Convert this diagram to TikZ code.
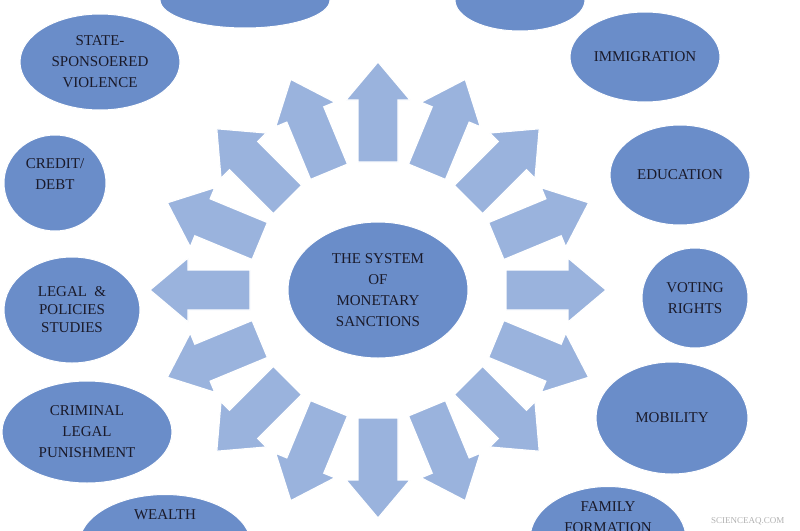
\documentclass[tikz,border=0pt]{standalone}
\usepackage{fontspec}
\setmainfont{Liberation Serif}
\usetikzlibrary{shapes.geometric}
\definecolor{ovalblue}{HTML}{6A8DC9}
\definecolor{arrowblue}{HTML}{9AB3DD}
\definecolor{txt}{HTML}{1A1A2A}
\tikzset{
  oval/.style={ellipse,fill=ovalblue,draw=white,line width=1pt,inner sep=0pt,align=center,text=txt,font=\fontsize{15}{21}\selectfont},
  blockarrow/.style={fill=arrowblue,draw=white,line width=1.2pt,line join=miter}
}
\begin{document}
\begin{tikzpicture}[x=1pt,y=-1pt]
\useasboundingbox (0,0) rectangle (800,530);
\clip (0,0) rectangle (800,530);
\fill[white] (0,0) rectangle (800,530);
% radial arrows
\foreach \a in {-90,-67.5,-45,-22.5,0,22.5,45,67.5,90,112.5,135,157.5,180,202.5,225,247.5}{
  \begin{scope}[shift={(378,290)},rotate=\a]
    \draw[blockarrow] (128,-20) -- (190,-20) -- (190,-32) -- (228,0) -- (190,32) -- (190,20) -- (128,20) -- cycle;
  \end{scope}
}
\node[oval,minimum width=180pt,minimum height=136pt] (center) at (378,290) {THE SYSTEM\\OF\\MONETARY\\SANCTIONS};
\node[oval,minimum width=170pt,minimum height=56pt] (tl) at (245,0) {};
\node[oval,minimum width=130pt,minimum height=62pt] (tr) at (520,0) {};
\node[oval,minimum width=160pt,minimum height=96pt] (state) at (100,62) {STATE-\\SPONSOERED\\VIOLENCE};
\node[oval,minimum width=150pt,minimum height=90pt] (imm) at (645,57) {IMMIGRATION};
\node[oval,minimum width=102pt,minimum height=96pt] (credit) at (55,183) {CREDIT/\\DEBT\\[-4pt]};
\node[oval,minimum width=136pt,minimum height=106pt] (legal) at (72,310) {LEGAL \ \&\\[-3pt]POLICIES\\[-3pt]STUDIES};
\node[oval,minimum width=140pt,minimum height=100pt] (edu) at (680,175) {EDUCATION};
\node[oval,minimum width=106pt,minimum height=100pt] (vote) at (695,298) {VOTING\\RIGHTS};
\node[oval,minimum width=170pt,minimum height=102pt] (crim) at (87,432) {CRIMINAL\\LEGAL\\PUNISHMENT};
\node[oval,minimum width=152pt,minimum height=112pt] (mob) at (672,418) {MOBILITY};
\node[oval,minimum width=172pt,minimum height=72pt,anchor=north] (wealth) at (165,494) {WEALTH\\[40pt]};
\node[oval,minimum width=156pt,minimum height=72pt,anchor=north] (fam) at (608,486) {FAMILY\\FORMATION\\[22pt]};
\node[text=gray!60,font=\fontsize{9}{10}\selectfont,anchor=east] (wm) at (788,521) {SCIENCEAQ.COM};
\end{tikzpicture}
\end{document}
